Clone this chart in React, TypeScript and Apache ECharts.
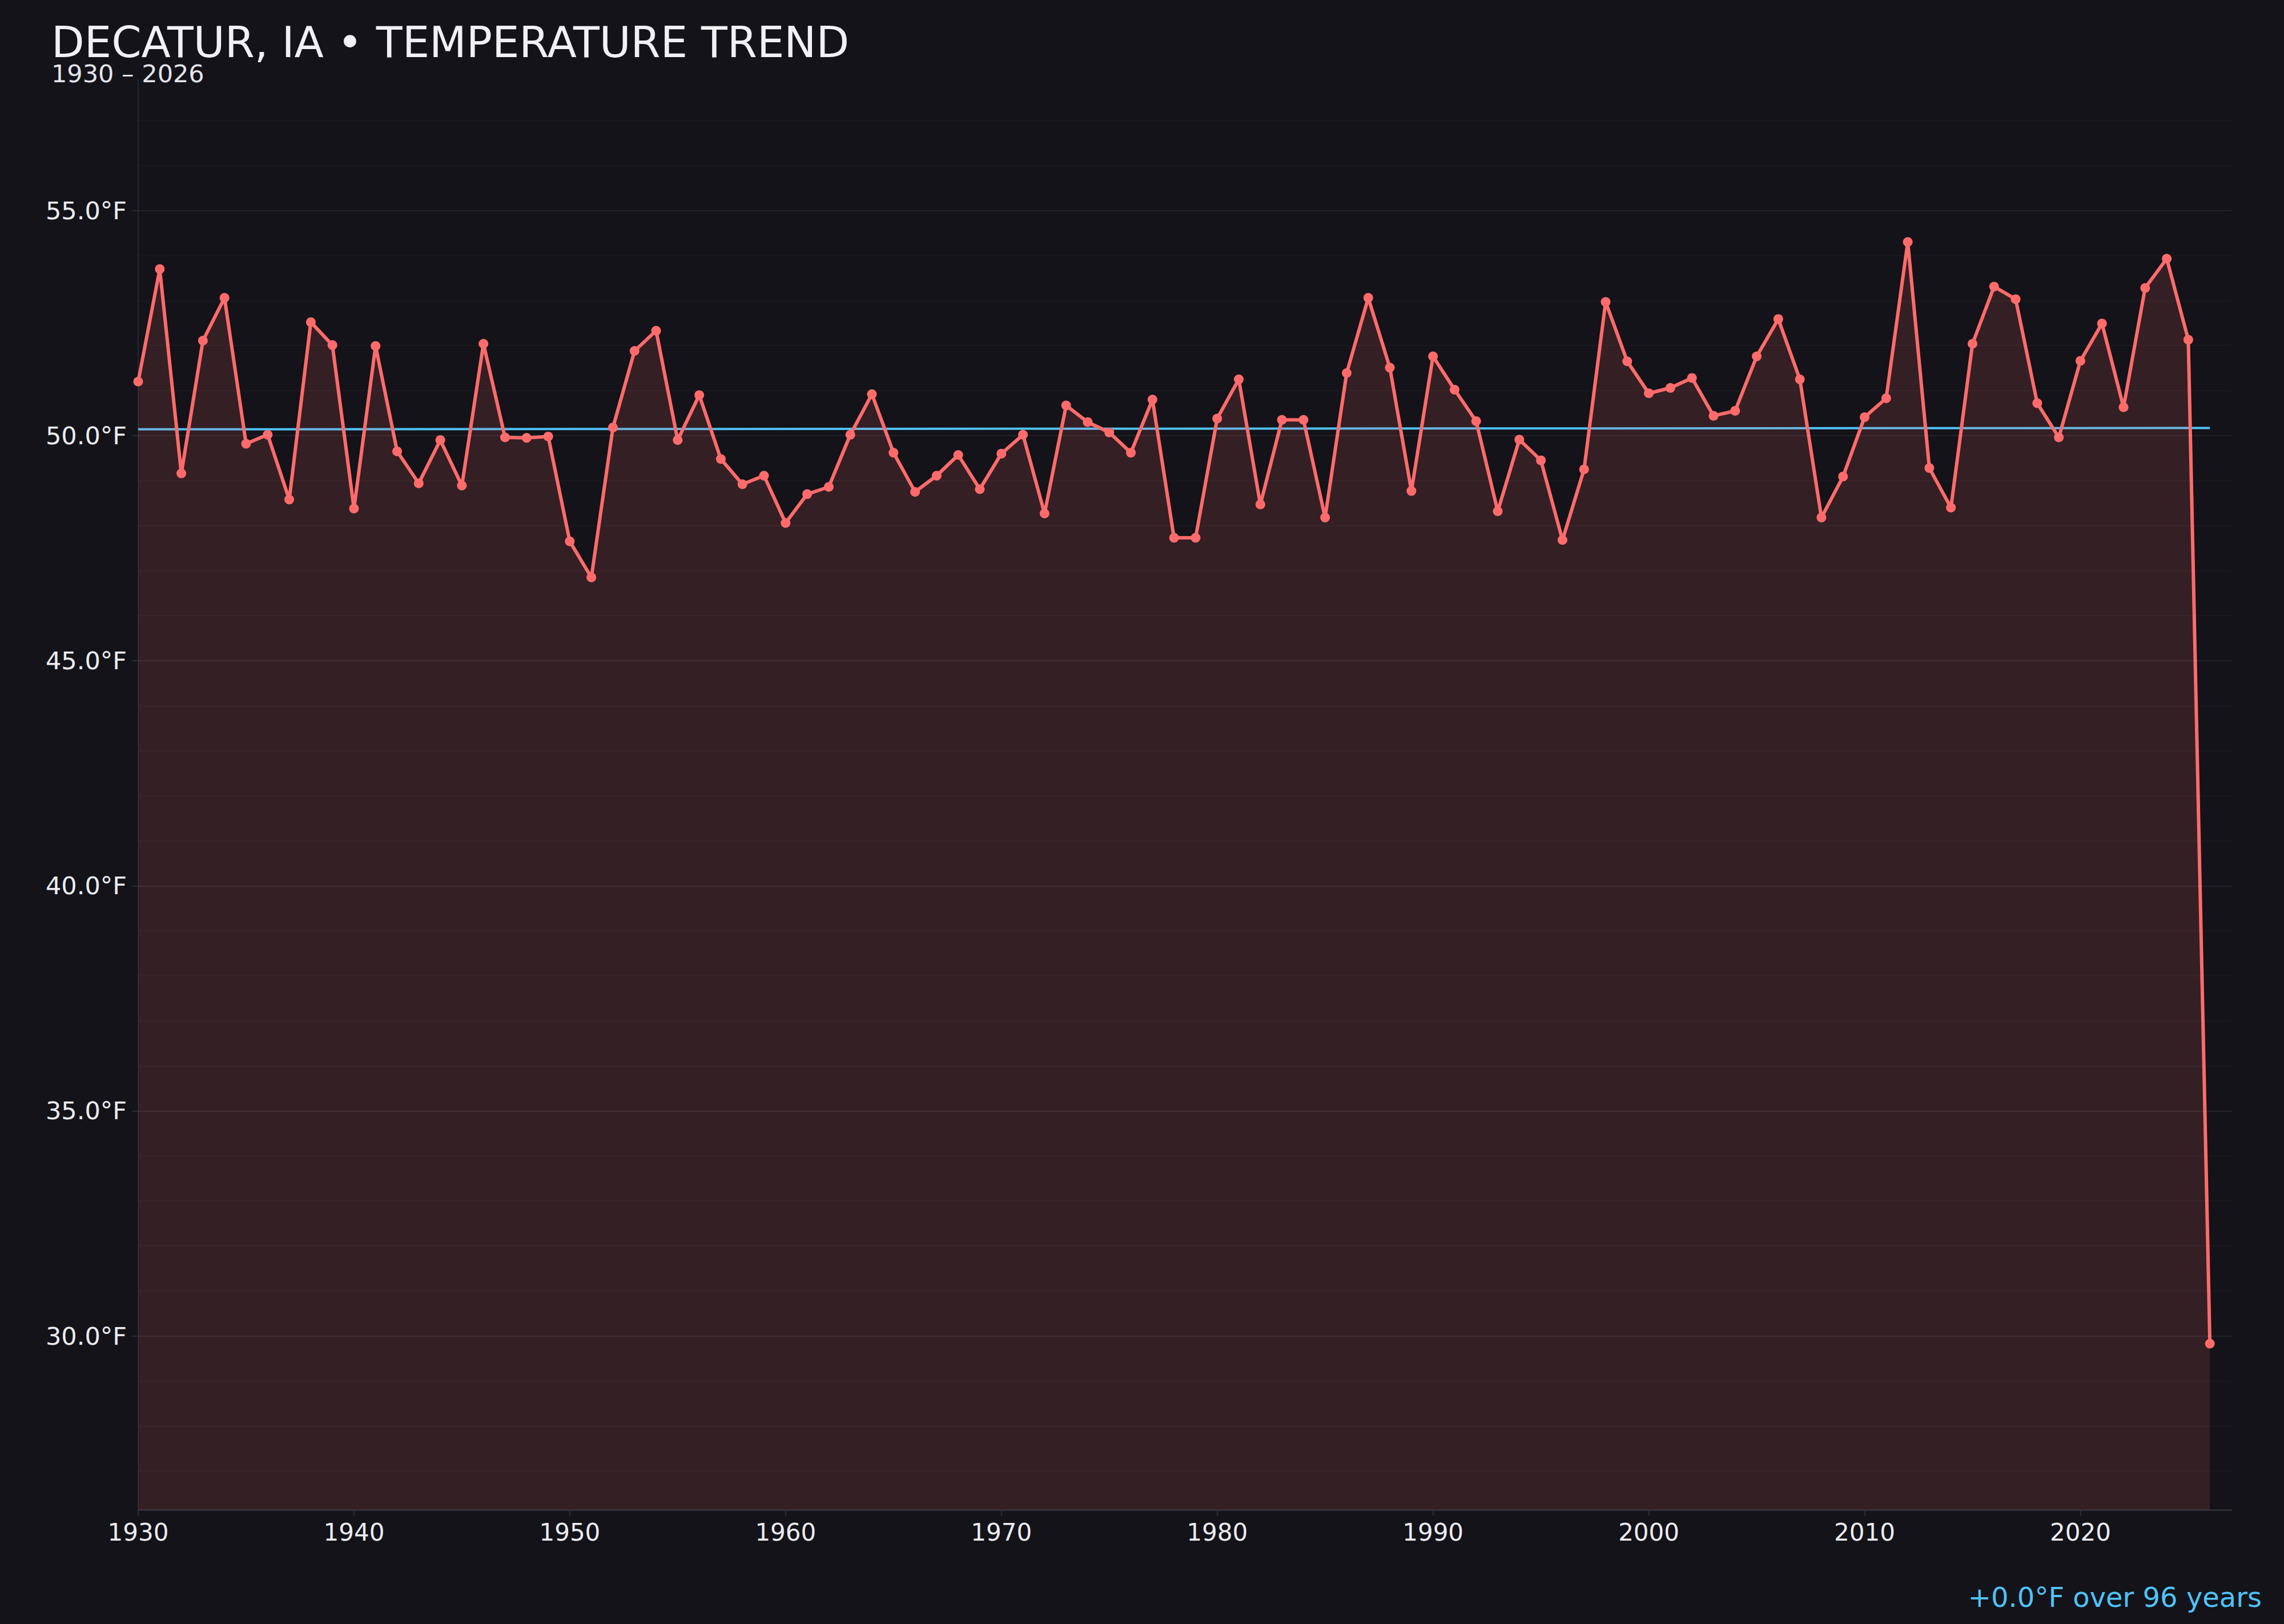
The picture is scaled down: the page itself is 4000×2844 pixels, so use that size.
import React, { useEffect, useRef } from "react";
import * as echarts from "echarts";

const startYear = 1930;
const temps: number[] = [
  51.2, 53.7, 49.16, 52.11, 53.06, 49.82, 50.02, 48.58, 52.52, 52.01,
  48.38, 51.99, 49.65, 48.94, 49.9, 48.89, 52.04, 49.96, 49.95, 49.98,
  47.65, 46.85, 50.18, 51.88, 52.33, 49.9, 50.9, 49.48, 48.92, 49.11,
  48.06, 48.7, 48.86, 50.02, 50.92, 49.62, 48.75, 49.11, 49.57, 48.81,
  49.6, 50.02, 48.27, 50.67, 50.3, 50.07, 49.62, 50.8, 47.73, 47.73,
  50.38, 51.25, 48.47, 50.35, 50.35, 48.18, 51.39, 53.06, 51.51, 48.77,
  51.76, 51.02, 50.32, 48.32, 49.91, 49.45, 47.68, 49.25, 52.97, 51.65,
  50.94, 51.06, 51.28, 50.44, 50.55, 51.76, 52.59, 51.25, 48.18, 49.09,
  50.41, 50.83, 54.3, 49.28, 48.4, 52.04, 53.31, 53.03, 50.72, 49.96,
  51.66, 52.49, 50.63, 53.28, 53.93, 52.13, 29.83,
];
const trendYears = [1930, 2026];
const trendValues = [50.14, 50.17];
const xTickYears = [1930, 1940, 1950, 1960, 1970, 1980, 1990, 2000, 2010, 2020];
const yTickValues = [30, 35, 40, 45, 50, 55];
const gridValues = [
  27, 28, 29, 30, 31, 32, 33, 34, 35, 36, 37, 38, 39, 40, 41, 42,
  43, 44, 45, 46, 47, 48, 49, 50, 51, 52, 53, 54, 55, 56, 57,
];

const TITLE = "DECATUR, IA • TEMPERATURE TREND";
const SUBTITLE = "1930 – 2026";
const FOOTNOTE = "+0.0°F over 96 years";

const BG = "#131319";
const RED = "#ff6b6b";
const BLUE = "#4fc3f7";
const FONT = '"DejaVu Sans", "Noto Sans", sans-serif';

export default function App() {
  const ref = useRef<HTMLDivElement>(null);
  useEffect(() => {
    document.body.style.margin = "0";
    document.body.style.background = BG;
    const chart = echarts.init(ref.current as HTMLDivElement, null, { renderer: "svg" });
    const series: any[] = [
      {
        type: "line",
        name: "grid",
        data: [],
        z: 1,
        silent: true,
        markLine: {
          silent: true,
          symbol: ["none", "none"],
          label: { show: false },
          animation: false,
          data: gridValues.map((v) => ({
            yAxis: v,
            lineStyle: {
              type: "solid",
              width: 2,
              color: v % 5 === 0 ? "rgba(255,255,255,0.065)" : "rgba(255,255,255,0.022)",
            },
          })),
        },
      },
      {
        type: "line",
        name: "trend",
        z: 2,
        data: trendYears.map((y, i) => [y, trendValues[i]]),
        symbol: "none",
        lineStyle: { color: BLUE, width: 4 },
      },
      {
        type: "line",
        name: "temp",
        z: 3,
        data: temps.map((t, i) => [startYear + i, t]),
        symbol: "circle",
        symbolSize: 17,
        showSymbol: true,
        lineStyle: { color: RED, width: 6 },
        itemStyle: { color: RED },
        areaStyle: { color: "rgba(255,107,107,0.14)", opacity: 1, origin: "start" },
      },
    ];
    chart.setOption({
      animation: false,
      backgroundColor: BG,
      textStyle: { fontFamily: FONT },
      grid: { left: 242, right: 92, top: 140, bottom: 200, containLabel: false },
      xAxis: {
        type: "value",
        min: 1930,
        max: 2027,
        interval: 10,
        axisLine: { show: true, lineStyle: { color: "#2c2c35", width: 3 } },
        axisTick: {
          show: true,
          length: 10,
          customValues: xTickYears,
          lineStyle: { color: "#2c2c35", width: 2 },
        },
        axisLabel: {
          customValues: xTickYears,
          color: "#ececf1",
          fontSize: 42,
          fontFamily: FONT,
          margin: 18,
          formatter: (v: number) => String(v),
        },
        splitLine: { show: false },
      },
      yAxis: {
        type: "value",
        min: 26.14,
        max: 57.9,
        axisLine: { show: true, lineStyle: { color: "#26262e", width: 2 } },
        axisTick: {
          show: true,
          length: 10,
          customValues: yTickValues,
          lineStyle: { color: "#2c2c35", width: 2 },
        },
        axisLabel: {
          customValues: yTickValues,
          color: "#ececf1",
          fontSize: 43,
          fontFamily: FONT,
          margin: 20,
          formatter: (v: number) => v.toFixed(1) + "°F",
        },
        splitLine: { show: false },
      },
      graphic: [
        {
          type: "text",
          x: 90,
          y: 74,
          style: {
            text: TITLE,
            fill: "#f0f0f5",
            fontSize: 75,
            fontFamily: FONT,
            verticalAlign: "middle",
            textAlign: "left",
          },
        },
        {
          type: "text",
          x: 90,
          y: 129,
          style: {
            text: SUBTITLE,
            fill: "#e4e4ea",
            fontSize: 43,
            fontFamily: FONT,
            verticalAlign: "middle",
            textAlign: "left",
          },
        },
        {
          type: "text",
          x: 3961,
          y: 2797,
          style: {
            text: FOOTNOTE,
            fill: BLUE,
            fontSize: 48,
            fontFamily: FONT,
            verticalAlign: "middle",
            textAlign: "right",
          },
        },
      ],
      series,
    });
    return () => chart.dispose();
  }, []);
  return (
    <div
      ref={ref}
      style={{ position: "absolute", left: 0, top: 0, width: 4000, height: 2844, background: BG }}
    />
  );
}
